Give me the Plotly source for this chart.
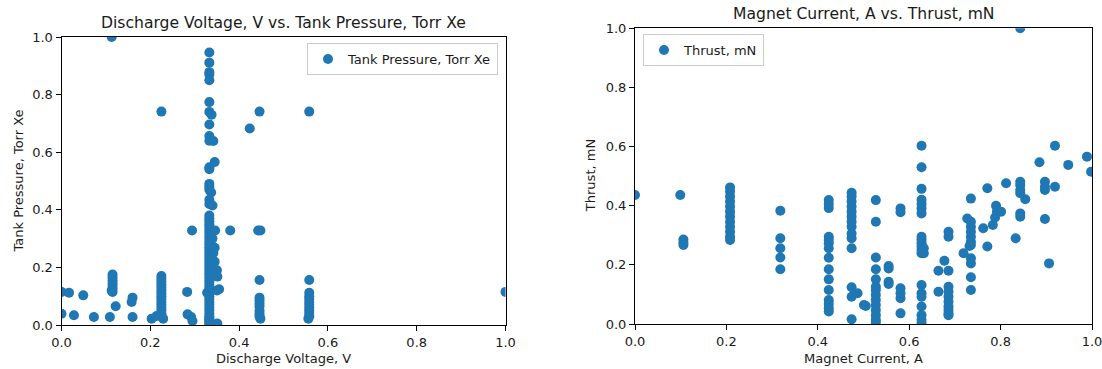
import plotly.graph_objects as go

# ---------------- Data ----------------
# Left: Discharge Voltage, V (x) vs Tank Pressure, Torr Xe (y)
voltage = [
    0.0, 0.017, 0.0, 0.028, 0.049, 0.073, 0.109, 0.113,
    0.115, 0.115, 0.115, 0.115, 0.115, 0.115, 0.115, 0.113,
    0.122, 0.158, 0.160, 0.160,
    0.203, 0.214, 0.229,
    0.225, 0.225, 0.225, 0.225, 0.225, 0.225, 0.225, 0.225, 0.225, 0.225, 0.225, 0.225, 0.225, 0.225, 0.225, 0.225,
    0.283, 0.284, 0.292, 0.295, 0.294, 0.328,
    0.333, 0.333, 0.333, 0.333, 0.333, 0.333, 0.333, 0.333, 0.333, 0.333,
    0.333, 0.333, 0.333, 0.333, 0.333, 0.333, 0.333, 0.333, 0.333, 0.333,
    0.333, 0.333, 0.333, 0.333, 0.333, 0.333, 0.333, 0.333, 0.333, 0.333,
    0.333, 0.333, 0.333, 0.333, 0.333, 0.333, 0.333, 0.333, 0.333, 0.333,
    0.333, 0.333, 0.333, 0.333, 0.333, 0.333, 0.333, 0.333, 0.333, 0.333,
    0.333, 0.333, 0.333, 0.333, 0.333, 0.333, 0.333, 0.333, 0.333,
    0.342, 0.345, 0.340, 0.346, 0.345, 0.350, 0.351, 0.355, 0.350, 0.351, 0.340, 0.342, 0.345, 0.338, 0.337,
    0.380, 0.424, 0.446, 0.443, 0.448, 0.446,
    0.446, 0.446, 0.446, 0.446, 0.446, 0.446, 0.446, 0.448,
    0.558, 0.558,
    0.558, 0.558, 0.558, 0.558, 0.558, 0.558, 0.558, 0.558, 0.558, 0.556,
    1.0,
]
pressure = [
    0.115, 0.112, 0.039, 0.034, 0.103, 0.028, 0.028, 1.0,
    0.115, 0.125, 0.135, 0.145, 0.155, 0.165, 0.175, 0.120,
    0.065, 0.080, 0.095, 0.028,
    0.022, 0.031, 0.022,
    0.741, 0.030, 0.040, 0.050, 0.060, 0.070, 0.080, 0.090, 0.100, 0.110, 0.120, 0.130, 0.140, 0.150, 0.160, 0.170,
    0.115, 0.037, 0.028, 0.014, 0.328, 0.112,
    0.946, 0.911, 0.878, 0.870, 0.850, 0.774, 0.740, 0.696, 0.656, 0.640,
    0.548, 0.541, 0.490, 0.480, 0.470, 0.435, 0.420, 0.380, 0.370, 0.360,
    0.350, 0.340, 0.330, 0.320, 0.310, 0.300, 0.290, 0.280, 0.270, 0.260,
    0.250, 0.240, 0.230, 0.220, 0.210, 0.200, 0.190, 0.180, 0.170, 0.160,
    0.150, 0.140, 0.130, 0.120, 0.110, 0.100, 0.090, 0.080, 0.070, 0.060,
    0.050, 0.040, 0.030, 0.025, 0.020, 0.015, 0.010, 0.005, 0.000,
    0.639, 0.566, 0.415, 0.328, 0.268, 0.190, 0.168, 0.124, 0.120, 0.005, 0.300, 0.250, 0.220, 0.730, 0.460,
    0.328, 0.682, 0.741, 0.328, 0.328, 0.156,
    0.095, 0.085, 0.075, 0.065, 0.050, 0.040, 0.030, 0.022,
    0.741, 0.156,
    0.112, 0.100, 0.090, 0.080, 0.070, 0.060, 0.050, 0.040, 0.030, 0.022,
    0.115,
]

# Right: Magnet Current, A (x) vs Thrust, mN (y)
current = [
    0.0, 0.099, 0.106, 0.106, 0.106,
    0.208, 0.208, 0.208, 0.208, 0.208, 0.208, 0.208, 0.208, 0.208, 0.208, 0.208, 0.208,
    0.318, 0.318, 0.318, 0.318, 0.318,
    0.424, 0.424, 0.424, 0.424, 0.424, 0.424, 0.424, 0.424, 0.424, 0.424, 0.424, 0.424, 0.424, 0.424, 0.424,
    0.474, 0.474, 0.474, 0.474, 0.474, 0.474, 0.474, 0.474, 0.474, 0.474, 0.474,
    0.474, 0.474, 0.487, 0.474, 0.501, 0.505,
    0.527, 0.527, 0.527, 0.527, 0.527, 0.527, 0.527, 0.527, 0.527, 0.527, 0.527, 0.527, 0.527, 0.527,
    0.555, 0.555, 0.555, 0.555,
    0.581, 0.581, 0.581, 0.581, 0.581, 0.581,
    0.627, 0.627, 0.627, 0.627, 0.627, 0.627, 0.627, 0.627, 0.627, 0.627, 0.627, 0.627, 0.627,
    0.627, 0.627, 0.627, 0.627, 0.627, 0.627, 0.627, 0.632, 0.632,
    0.664, 0.664, 0.677,
    0.686, 0.686, 0.686, 0.686, 0.686, 0.686, 0.686, 0.686, 0.686, 0.686, 0.686,
    0.719, 0.727,
    0.735, 0.735, 0.735, 0.735, 0.735, 0.735, 0.735, 0.735, 0.735, 0.735, 0.735, 0.732,
    0.762, 0.771, 0.771, 0.783, 0.790, 0.792, 0.788, 0.801, 0.812, 0.833,
    0.843, 0.843, 0.843, 0.843, 0.843, 0.843, 0.843, 0.854,
    0.885, 0.897, 0.897, 0.897, 0.897, 0.906, 0.919, 0.919, 0.948, 0.989, 0.998,
]
thrust = [
    0.436, 0.436, 0.286, 0.275, 0.267,
    0.462, 0.448, 0.431, 0.414, 0.397, 0.380, 0.363, 0.346, 0.329, 0.312, 0.295, 0.284,
    0.383, 0.290, 0.256, 0.225, 0.185,
    0.419, 0.406, 0.392, 0.295, 0.284, 0.273, 0.256, 0.224, 0.185, 0.151, 0.115, 0.081, 0.068, 0.053, 0.042,
    0.444, 0.431, 0.414, 0.397, 0.380, 0.363, 0.346, 0.329, 0.306, 0.290, 0.256,
    0.124, 0.092, 0.104, 0.016, 0.064, 0.061,
    0.419, 0.346, 0.225, 0.185, 0.151, 0.126, 0.115, 0.098, 0.081, 0.064, 0.047, 0.030, 0.014, 0.005,
    0.196, 0.188, 0.143, 0.135,
    0.391, 0.378, 0.121, 0.104, 0.087, 0.036,
    0.603, 0.530, 0.457, 0.420, 0.406, 0.391, 0.374, 0.295, 0.284, 0.273, 0.262, 0.250, 0.239,
    0.132, 0.104, 0.092, 0.059, 0.030, 0.014, 0.002, 0.256, 0.239,
    0.180, 0.109, 0.214,
    0.312, 0.295, 0.180, 0.126, 0.109, 0.092, 0.075, 0.059, 0.047, 0.036, 0.030,
    0.239, 0.357,
    0.424, 0.346, 0.329, 0.312, 0.295, 0.278, 0.267, 0.222, 0.205, 0.158, 0.115, 0.264,
    0.324, 0.459, 0.262, 0.335, 0.400, 0.380, 0.360, 0.380, 0.476, 0.290,
    1.0, 0.481, 0.470, 0.453, 0.442, 0.374, 0.363, 0.422,
    0.547, 0.481, 0.464, 0.453, 0.355, 0.205, 0.464, 0.603, 0.538, 0.566, 0.515,
]

ticks = [0.0, 0.2, 0.4, 0.6, 0.8, 1.0]
tick_text = ["0.0", "0.2", "0.4", "0.6", "0.8", "1.0"]

# ---------------- Figure ----------------
BLUE = "#1f77b4"
FONT = "DejaVu Sans"
TXT = "#1a1a1a"
W, H = 1102, 369

fig = go.Figure()
fig.add_trace(go.Scatter(
    x=voltage, y=pressure, mode="markers", name="Tank Pressure, Torr Xe",
    marker=dict(color=BLUE, size=10, line=dict(width=0)),
    xaxis="x", yaxis="y", legend="legend", showlegend=True,
))
fig.add_trace(go.Scatter(
    x=current, y=thrust, mode="markers", name="Thrust, mN",
    marker=dict(color=BLUE, size=10, line=dict(width=0)),
    xaxis="x2", yaxis="y2", legend="legend2", showlegend=True,
))

axis_common = dict(
    range=[0, 1], tickvals=ticks, ticktext=tick_text, automargin=False,
    ticklabeloverflow="allow",
    showline=True, linecolor="black", linewidth=1, mirror=True,
    ticks="outside", ticklen=5, tickwidth=1, tickcolor="black",
    showgrid=False, zeroline=False,
    tickfont=dict(family=FONT, size=13, color=TXT),
)

L1, R1, T1, B1 = 61.5, 505.5, 37, 325
L2, R2, T2, B2 = 635, 1092, 28.3, 324

legend_common = dict(
    bordercolor="#cccccc", borderwidth=1, bgcolor="rgba(255,255,255,0.8)",
    font=dict(family=FONT, size=13, color=TXT), tracegroupgap=0,
)

fig.update_layout(
    width=W, height=H, showlegend=True,
    margin=dict(l=0, r=0, t=0, b=0, pad=0, autoexpand=False),
    paper_bgcolor="white", plot_bgcolor="white",
    font=dict(family=FONT, size=13, color=TXT),
    xaxis=dict(domain=[L1 / W, R1 / W], anchor="y", **axis_common),
    yaxis=dict(domain=[(H - B1) / H, (H - T1) / H], anchor="x", **axis_common),
    xaxis2=dict(domain=[L2 / W, R2 / W], anchor="y2", **axis_common),
    yaxis2=dict(domain=[(H - B2) / H, (H - T2) / H], anchor="x2", **axis_common),
    legend=dict(x=498 / W, y=(H - 43) / H, xanchor="right", yanchor="top", **legend_common),
    legend2=dict(x=643 / W, y=(H - 34) / H, xanchor="left", yanchor="top", **legend_common),
    annotations=[
        dict(text="Discharge Voltage, V vs. Tank Pressure, Torr Xe", x=(L1 + R1) / 2 / W, y=(H - 23) / H,
             xref="paper", yref="paper", showarrow=False, xanchor="center", yanchor="middle",
             font=dict(family=FONT, size=15.6, color=TXT)),
        dict(text="Magnet Current, A vs. Thrust, mN", x=(L2 + R2) / 2 / W, y=(H - 13.5) / H,
             xref="paper", yref="paper", showarrow=False, xanchor="center", yanchor="middle",
             font=dict(family=FONT, size=15.6, color=TXT)),
        dict(text="Discharge Voltage, V", x=(L1 + R1) / 2 / W, y=(H - 358) / H,
             xref="paper", yref="paper", showarrow=False, xanchor="center", yanchor="middle",
             font=dict(family=FONT, size=13, color=TXT)),
        dict(text="Magnet Current, A", x=(L2 + R2) / 2 / W, y=(H - 358) / H,
             xref="paper", yref="paper", showarrow=False, xanchor="center", yanchor="middle",
             font=dict(family=FONT, size=13, color=TXT)),
        dict(text="Tank Pressure, Torr Xe", x=17.5 / W, y=(H - (T1 + B1) / 2) / H, textangle=-90,
             xref="paper", yref="paper", showarrow=False, xanchor="center", yanchor="middle",
             font=dict(family=FONT, size=13, color=TXT)),
        dict(text="Thrust, mN", x=590 / W, y=(H - (T2 + B2) / 2) / H, textangle=-90,
             xref="paper", yref="paper", showarrow=False, xanchor="center", yanchor="middle",
             font=dict(family=FONT, size=13, color=TXT)),
    ],
)

fig.write_html("out.html")
